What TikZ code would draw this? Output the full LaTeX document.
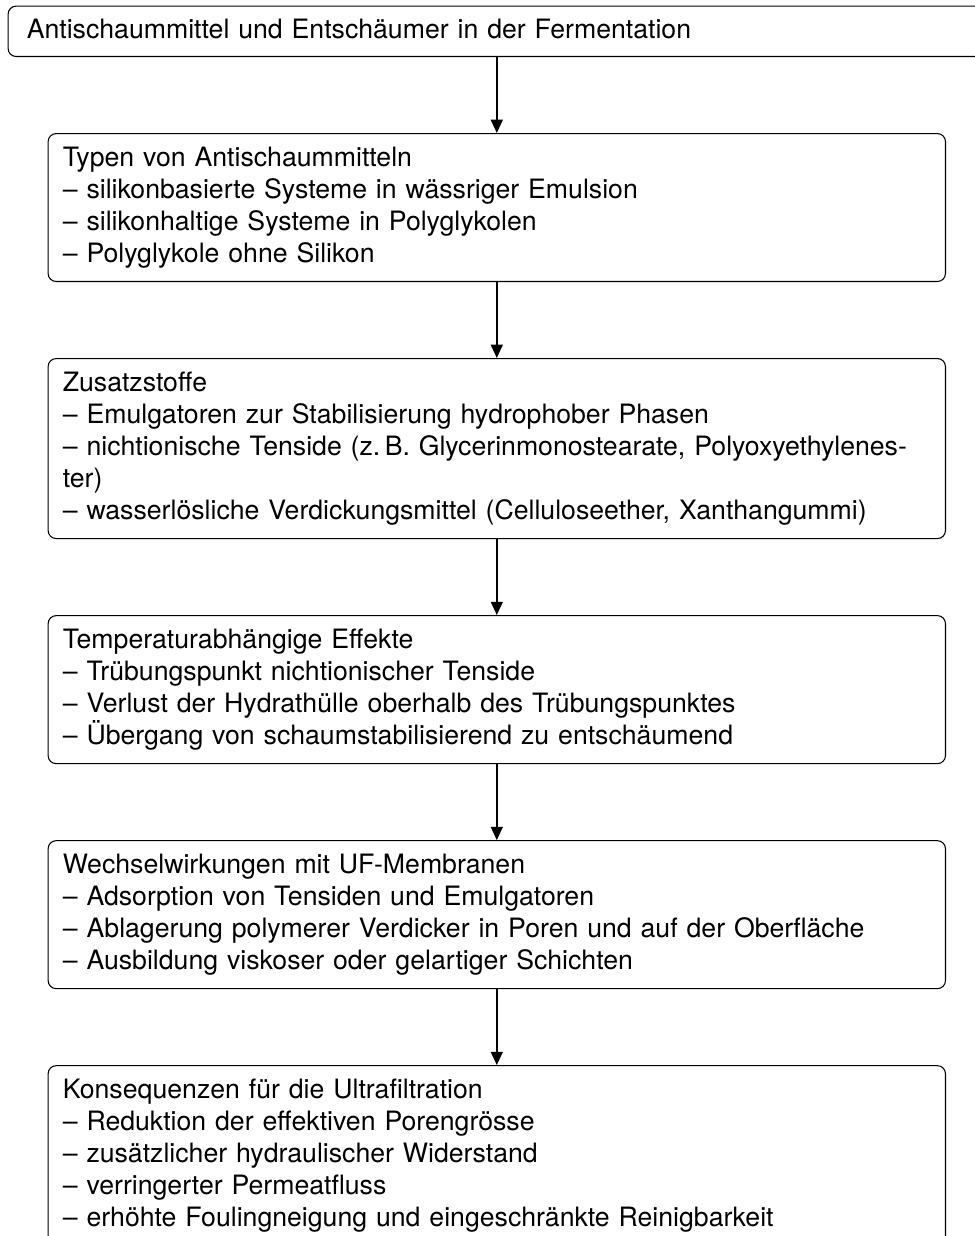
\documentclass[tikz,border=0pt]{standalone}
\usepackage{fontspec}
\setmainfont{TeX Gyre Heros}
\usetikzlibrary{positioning,arrows.meta}

\begin{document}
\begin{tikzpicture}[
      node distance=28.5pt,
      titlebox/.style={draw, rounded corners=3pt, text width=352.5pt, align=left, inner xsep=7pt, inner ysep=5pt, text depth=1.6pt},
      stagebox/.style={draw, rounded corners=3pt, text width=325.5pt, align=left, inner xsep=5.5pt, inner ysep=5pt},
      flow/.style={-{Triangle[length=5pt,width=4.4pt]}, line width=0.8pt},
  ]
    \useasboundingbox (0,0) rectangle (365.625pt,-463.5pt);

    \node[titlebox, anchor=north] (start) at (186.3pt,-2.1pt)
      {Antischaummittel und Entschäumer in der Fermentation};
    \node[stagebox, below=of start] (types)
      {Typen von Antischaummitteln\\
       – silikonbasierte Systeme in wässriger Emulsion\\
       – silikonhaltige Systeme in Polyglykolen\\
       – Polyglykole ohne Silikon};
    \node[stagebox, below=of types] (additives)
      {Zusatzstoffe\\
       – Emulgatoren zur Stabilisierung hydrophober Phasen\\
       – nichtionische Tenside (z.\,B. Glycerinmonostearate, Polyoxyethylenes-\\
       ter)\\
       – wasserlösliche Verdickungsmittel (Celluloseether, Xanthangummi)};
    \node[stagebox, below=of additives] (temp)
      {Temperaturabhängige Effekte\\
       – Trübungspunkt nichtionischer Tenside\\
       – Verlust der Hydrathülle oberhalb des Trübungspunktes\\
       – Übergang von schaumstabilisierend zu entschäumend};
    \node[stagebox, below=of temp] (membrane)
      {Wechselwirkungen mit UF-Membranen\\
       – Adsorption von Tensiden und Emulgatoren\\
       – Ablagerung polymerer Verdicker in Poren und auf der Oberfläche\\
       – Ausbildung viskoser oder gelartiger Schichten};
    \node[stagebox, below=of membrane] (uf)
      {Konsequenzen für die Ultrafiltration\\
       – Reduktion der effektiven Porengrösse\\
       – zusätzlicher hydraulischer Widerstand\\
       – verringerter Permeatfluss\\
       – erhöhte Foulingneigung und eingeschränkte Reinigbarkeit};

    % flow from top to bottom
    \draw[flow] (start.south) -- (types.north);
    \draw[flow] (types.south) -- (additives.north);
    \draw[flow] (additives.south) -- (temp.north);
    \draw[flow] (temp.south) -- (membrane.north);
    \draw[flow] (membrane.south) -- (uf.north);
\end{tikzpicture}
\end{document}
